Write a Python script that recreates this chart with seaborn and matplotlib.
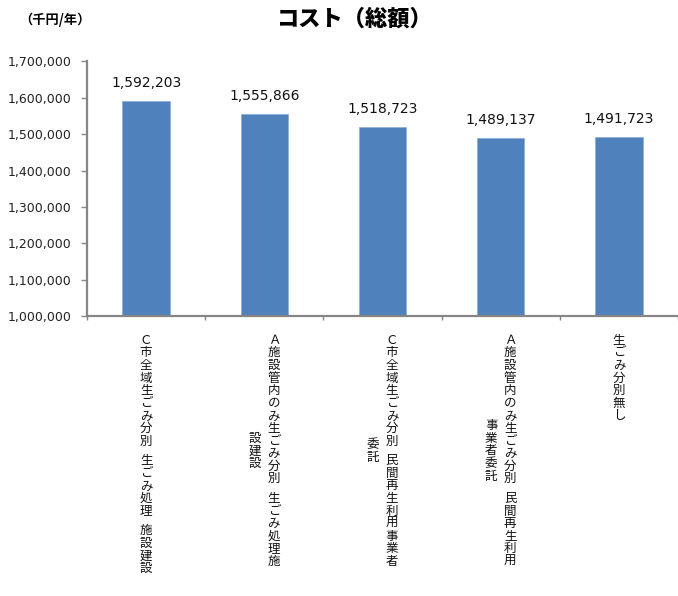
import matplotlib
matplotlib.use("Agg")
import matplotlib.pyplot as plt
import seaborn as sns
import pandas as pd
from matplotlib.ticker import FuncFormatter

# ---- data ----
label_columns = [
    ["Ｃ市全域生ごみ分別　生ごみ処理 施設建設"],
    ["Ａ施設管内のみ生ごみ分別　生ごみ処理施", "設建設"],
    ["Ｃ市全域生ごみ分別　民間再生利用事業者", "委託"],
    ["Ａ施設管内のみ生ごみ分別　民間再生利用", "事業者委託"],
    ["生ごみ分別無し"],
]
categories = ["".join(c) for c in label_columns]
costs = [1592203, 1555866, 1518723, 1489137, 1491723]
y_ticks = [1000000, 1100000, 1200000, 1300000, 1400000, 1500000, 1600000, 1700000]
title_text = "コスト（総額）"
unit_text = "（千円/年）"

# ---- style ----
sns.set_theme(style="white")
plt.rcParams['font.family'] = ['DejaVu Sans', 'Noto Sans CJK JP']
CJK = ['Noto Sans CJK JP', 'DejaVu Sans']
W, H = 678, 596
DPI = 100
GRAY = '#868686'

fig = plt.figure(figsize=(W / DPI, H / DPI), dpi=DPI)
ax_left, ax_bottom_px, ax_top_px = 87, 316, 61.5
ax = fig.add_axes([ax_left / W, 1 - ax_bottom_px / H, 1 - ax_left / W, (ax_bottom_px - ax_top_px) / H])

df = pd.DataFrame({"cat": categories, "cost": costs})
sns.barplot(data=df, x="cat", y="cost", order=categories, color="#4F81BD",
            saturation=1, width=0.4, edgecolor="#8FB0D8", linewidth=0.6, ax=ax)

ax.set_ylim(y_ticks[0], y_ticks[-1])
ax.set_xlim(-0.5, len(categories) - 0.5)
ax.set_yticks(y_ticks)
ax.yaxis.set_major_formatter(FuncFormatter(lambda v, p: f"{int(v):,}"))
ax.set_xticks([i - 0.5 for i in range(len(categories) + 1)])
ax.set_xticklabels([])
ax.set_xlabel("")
ax.set_ylabel("")
for s in ["top", "right"]:
    ax.spines[s].set_visible(False)
for s in ["left", "bottom"]:
    ax.spines[s].set_color(GRAY)
    ax.spines[s].set_linewidth(1.6)
ax.tick_params(axis='y', left=True, length=4.3, width=1, color=GRAY, labelsize=9, pad=7, labelcolor='#222222')
ax.tick_params(axis='x', bottom=True, length=3, width=1, color=GRAY)
ax.grid(False)

# value labels
ax.bar_label(ax.containers[0], labels=[f"{v:,}" for v in costs], padding=8, fontsize=10, color='#111111')

# vertical (tategaki) category labels, drawn character by character
px2pt = 72 / DPI
pitch = 12.6
top_gap = 18
col_gap = 19
xform = ax.get_xaxis_transform()

def units(ch):
    return 0.55 if ch in (" ", "　") else 1.0

for i, cols in enumerate(label_columns):
    n = len(cols)
    lens = [sum(units(c) for c in col) for col in cols]
    block = max(lens) * pitch
    center_y = top_gap + block / 2
    for j, col in enumerate(cols):
        dx = ((n - 1) / 2 - j) * col_gap
        col_h = lens[j] * pitch
        y = center_y - col_h / 2
        for ch in col:
            u = units(ch)
            if u == 1.0:
                cy = y + pitch / 2
                ax.annotate(ch, xy=(i, 0), xycoords=xform,
                            xytext=(dx * px2pt, -cy * px2pt), textcoords='offset points',
                            ha='center', va='center', fontsize=9, family=CJK, color='#111111',
                            annotation_clip=False)
            y += u * pitch

# title and unit
fig.text(355 / W, 1 - 19 / H, title_text, ha='center', va='center', fontsize=16,
         fontweight='heavy', family=CJK, color='black')
fig.text(55 / W, 1 - 20 / H, unit_text, ha='center', va='center', fontsize=9.5,
         fontweight='bold', family=CJK, color='black')

fig.savefig("out.png", dpi=DPI)
